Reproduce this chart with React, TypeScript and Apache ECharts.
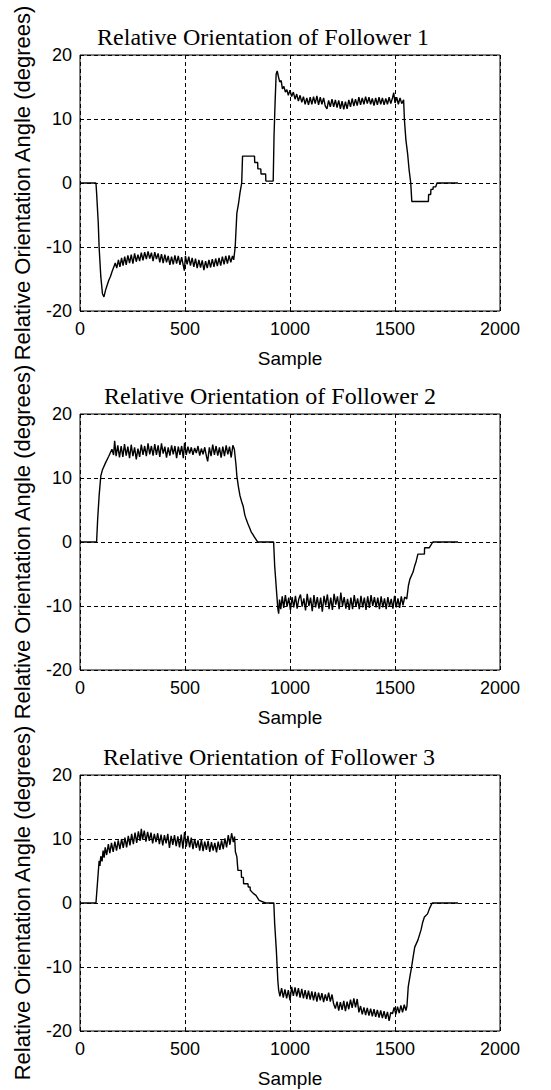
import React, { useEffect, useRef } from "react";
import * as echarts from "echarts";

const titles = [
  "Relative Orientation of Follower 1",
  "Relative Orientation of Follower 2",
  "Relative Orientation of Follower 3",
];
const xName = "Sample";
const yName = "Relative Orientation Angle (degrees)";
const xTicks = [0, 500, 1000, 1500, 2000];
const yTicks = [-20, -10, 0, 10, 20];

// [sample, angle in degrees]
const follower1: [number, number][] = [
  [0, 0], [76, 0], [79, -1.5], [87, -6.3], [91, -10], [99, -14.6], [107, -17.3], [114, -17.8],
  [122, -16.7], [130, -15.9], [137, -15.2], [145, -14.6], [152, -13.9], [160, -13.2], [168, -12.5],
  [175, -13.3], [183, -12.0], [190, -13.1], [198, -11.7], [205, -12.9], [213, -11.5], [220, -12.8],
  [228, -11.3], [236, -12.5], [244, -11.2], [252, -12.6], [260, -11.0], [268, -12.3], [276, -11.2],
  [284, -12.2], [292, -10.9], [300, -12.1], [308, -10.8], [316, -11.9], [324, -10.7], [332, -11.8],
  [340, -10.9], [348, -12.2], [356, -10.8], [364, -11.9], [372, -11.0], [380, -12.4], [388, -11.1],
  [396, -12.5], [404, -11.2], [412, -12.4], [420, -11.4], [428, -12.8], [436, -11.5], [444, -12.7],
  [452, -11.3], [460, -12.6], [468, -11.4], [476, -12.8], [484, -11.6], [492, -12.9], [497, -13.7],
  [502, -11.4], [510, -12.7], [518, -11.5], [526, -12.9], [534, -11.7], [542, -13.1], [550, -11.8],
  [558, -13.3], [566, -12.0], [574, -13.2], [582, -12.1], [590, -13.6], [598, -12.2], [606, -13.3],
  [614, -12.0], [622, -13.2], [630, -11.9], [638, -13.1], [646, -11.8], [654, -13.0], [662, -11.7],
  [670, -12.9], [678, -11.5], [686, -12.7], [694, -11.4], [702, -12.6], [710, -11.3], [718, -12.4],
  [726, -11.4], [732, -12.0], [739, -10.0], [747, -4.7], [755, -3.2], [762, -1.5], [770, 0],
  [774, 4.2], [831, 4.2], [832, 3.2], [846, 3.2], [847, 2.2], [861, 2.2], [862, 1.4], [884, 1.4],
  [885, 0.3], [920, 0.3], [924, 7.4], [929, 12.6], [934, 17.0], [939, 17.5], [945, 16.6],
  [951, 15.8], [958, 16.0], [964, 14.7], [971, 15.1], [978, 14.2], [985, 14.6], [992, 13.7],
  [1000, 14.5], [1008, 13.5], [1016, 14.2], [1024, 13.1], [1032, 13.9], [1040, 12.8], [1048, 13.7],
  [1056, 12.6], [1064, 13.5], [1072, 12.3], [1080, 13.3], [1088, 12.2], [1096, 13.4], [1104, 12.3],
  [1112, 13.5], [1120, 12.4], [1128, 13.6], [1136, 12.2], [1144, 13.4], [1152, 12.3], [1160, 13.3],
  [1168, 12.0], [1176, 11.6], [1184, 12.9], [1192, 11.9], [1200, 13.1], [1208, 11.9], [1216, 13.0],
  [1224, 11.8], [1232, 12.9], [1240, 11.6], [1248, 12.8], [1256, 11.5], [1264, 12.7], [1272, 11.6],
  [1280, 13.0], [1288, 11.9], [1296, 13.2], [1304, 12.0], [1312, 13.1], [1320, 12.1], [1328, 13.4],
  [1336, 12.2], [1344, 13.3], [1352, 12.3], [1360, 13.5], [1368, 12.4], [1376, 13.4], [1384, 12.3],
  [1392, 13.2], [1400, 12.1], [1408, 13.3], [1416, 12.2], [1424, 13.4], [1432, 12.3], [1440, 13.3],
  [1448, 12.2], [1456, 13.2], [1464, 12.3], [1472, 13.4], [1480, 12.4], [1488, 13.3], [1494, 14.1],
  [1500, 12.5], [1508, 13.4], [1516, 12.3], [1524, 13.3], [1532, 12.4], [1541, 13.0], [1545, 9.8],
  [1552, 6.7], [1560, 4.6], [1567, 2.1], [1575, 0], [1580, -2.9], [1659, -2.9], [1660, -1.8],
  [1670, -1.8], [1671, -1.0], [1681, -1.0], [1682, -0.6], [1694, -0.6], [1700, 0], [1800, 0],
];

const follower2: [number, number][] = [
  [0, 0], [79, 0], [84, 3.5], [91, 7.2], [99, 10.3], [107, 11.3], [122, 12.4], [137, 13.4],
  [152, 14.5], [160, 13.6], [165, 15.8], [172, 13.4], [180, 15.1], [188, 13.2], [196, 15.0],
  [204, 13.3], [212, 15.3], [220, 13.5], [228, 14.9], [236, 13.1], [244, 15.2], [252, 13.4],
  [260, 14.8], [268, 12.9], [276, 14.6], [284, 13.3], [292, 15.2], [300, 13.6], [308, 15.0],
  [316, 13.4], [324, 15.4], [332, 13.7], [340, 15.0], [348, 13.5], [356, 15.3], [364, 13.6],
  [372, 15.1], [380, 13.3], [388, 15.4], [396, 13.8], [404, 14.9], [412, 13.2], [420, 14.8],
  [428, 13.5], [436, 15.1], [444, 13.7], [452, 15.0], [460, 13.1], [468, 14.9], [476, 13.6],
  [484, 15.0], [492, 13.1], [498, 15.5], [506, 13.6], [514, 14.9], [522, 13.8], [530, 14.8],
  [538, 13.6], [546, 14.7], [554, 13.9], [562, 15.0], [570, 13.5], [578, 14.6], [586, 13.7],
  [594, 14.8], [602, 13.4], [608, 12.6], [616, 14.8], [624, 13.4], [632, 15.2], [640, 13.6],
  [648, 15.0], [656, 13.5], [664, 14.8], [672, 13.2], [680, 14.9], [688, 13.4], [696, 15.1],
  [704, 13.7], [712, 14.9], [720, 13.2], [728, 15.1], [735, 14.5], [743, 12.0], [747, 10.3],
  [755, 8.5], [762, 7.2], [770, 6.3], [777, 5.6], [785, 4.2], [792, 3.5], [800, 2.8], [808, 2.2],
  [815, 1.6], [823, 1.2], [830, 0.8], [838, 0.4], [846, 0], [922, 0], [927, -3.7], [935, -7.3],
  [942, -10.4], [946, -11.2], [950, -9.0], [956, -10.5], [963, -8.5], [970, -10.3], [978, -8.3],
  [986, -10.1], [994, -8.7], [1002, -10.6], [1010, -8.6], [1018, -10.2], [1026, -8.4], [1034, -10.4],
  [1042, -8.9], [1050, -8.2], [1058, -10.1], [1066, -8.8], [1074, -10.7], [1082, -8.1], [1090, -10.0],
  [1098, -8.7], [1106, -10.8], [1114, -8.3], [1122, -10.2], [1130, -8.6], [1138, -10.4], [1146, -8.7],
  [1154, -10.9], [1162, -8.4], [1170, -9.9], [1178, -8.2], [1186, -10.5], [1194, -8.7], [1202, -10.6],
  [1210, -8.1], [1218, -9.8], [1226, -8.5], [1234, -10.5], [1242, -7.9], [1250, -10.0], [1258, -8.6],
  [1266, -10.4], [1274, -8.9], [1282, -10.6], [1290, -8.7], [1298, -10.5], [1306, -8.3], [1314, -10.1],
  [1322, -8.8], [1330, -10.5], [1338, -8.4], [1346, -10.2], [1354, -8.7], [1362, -10.6], [1370, -8.5],
  [1378, -10.3], [1386, -8.3], [1394, -10.0], [1402, -8.6], [1410, -10.2], [1418, -8.7], [1426, -10.5],
  [1434, -8.5], [1442, -10.2], [1450, -8.8], [1458, -10.5], [1466, -8.6], [1474, -10.1], [1482, -8.9],
  [1490, -10.4], [1498, -8.4], [1506, -10.2], [1514, -8.8], [1522, -10.3], [1530, -8.5], [1538, -9.9],
  [1546, -8.6], [1556, -8.9], [1564, -6.8], [1571, -5.8], [1586, -4.7], [1594, -3.7], [1601, -3.0],
  [1609, -1.9], [1640, -1.9], [1641, -0.9], [1663, -0.9], [1680, 0], [1800, 0],
];

const follower3: [number, number][] = [
  [0, 0], [76, 0], [84, 3.5], [91, 6.6], [95, 5.8], [99, 7.3], [105, 6.5], [110, 8.2], [115, 7.1],
  [120, 8.7], [127, 7.5], [135, 9.2], [142, 7.8], [150, 9.4], [158, 8.0], [166, 9.6], [174, 8.2],
  [182, 9.8], [190, 8.4], [198, 10.0], [206, 8.6], [214, 10.2], [222, 8.7], [230, 10.5], [238, 9.0],
  [246, 10.8], [254, 9.2], [262, 11.0], [270, 9.4], [278, 11.2], [286, 9.7], [292, 11.6],
  [298, 9.9], [306, 11.3], [314, 9.6], [322, 11.1], [330, 9.7], [338, 11.0], [346, 9.3],
  [354, 10.8], [362, 9.5], [370, 10.9], [378, 9.2], [386, 10.7], [394, 9.0], [402, 10.6], [410, 9.3],
  [418, 10.8], [426, 8.6], [434, 10.5], [442, 9.1], [450, 10.6], [458, 8.9], [466, 10.4], [474, 8.7],
  [482, 10.7], [490, 8.5], [498, 11.1], [506, 8.8], [514, 10.5], [522, 8.7], [530, 10.2], [538, 8.4],
  [546, 10.0], [554, 8.6], [562, 9.8], [570, 8.2], [578, 9.9], [586, 8.1], [594, 9.6], [602, 8.3],
  [610, 9.7], [618, 8.0], [626, 9.5], [634, 8.2], [642, 9.4], [650, 7.9], [658, 9.6], [666, 8.3],
  [674, 9.8], [682, 8.4], [690, 10.1], [698, 8.7], [706, 10.6], [714, 9.1], [722, 10.9], [730, 9.5],
  [736, 10.4], [740, 8.0], [747, 7.2], [752, 5.1], [768, 5.1], [769, 4.0], [778, 4.0], [779, 3.0],
  [800, 3.0], [801, 2.5], [810, 2.5], [811, 2.0], [825, 1.5], [838, 1.2], [853, 0.4], [884, 0],
  [923, 0], [927, -3.2], [935, -7.4], [942, -12.1], [946, -13.6], [952, -14.6], [960, -13.3],
  [968, -14.8], [976, -13.5], [984, -14.9], [992, -13.6], [1000, -15.2], [1008, -13.1], [1016, -14.5],
  [1024, -13.2], [1032, -14.6], [1040, -13.3], [1048, -14.8], [1056, -13.4], [1064, -14.9],
  [1072, -13.6], [1080, -15.0], [1088, -13.7], [1096, -15.1], [1104, -13.8], [1112, -15.2],
  [1120, -13.9], [1128, -15.4], [1136, -14.0], [1144, -15.2], [1152, -14.1], [1160, -15.5],
  [1168, -14.3], [1176, -15.3], [1184, -14.0], [1192, -15.4], [1200, -14.3], [1208, -15.8],
  [1216, -16.5], [1224, -15.4], [1232, -16.8], [1240, -15.5], [1248, -16.7], [1256, -15.3],
  [1264, -16.9], [1272, -15.4], [1280, -16.6], [1288, -15.1], [1296, -16.4], [1304, -14.9],
  [1312, -16.3], [1320, -15.0], [1328, -17.1], [1336, -16.1], [1344, -17.4], [1352, -16.3],
  [1360, -17.5], [1368, -16.4], [1376, -17.6], [1384, -16.5], [1392, -17.7], [1400, -16.6],
  [1408, -17.8], [1416, -16.7], [1424, -17.9], [1432, -16.8], [1440, -18.0], [1448, -16.9],
  [1456, -18.1], [1464, -17.0], [1472, -18.4], [1480, -17.1], [1488, -17.3], [1496, -16.3],
  [1504, -17.4], [1512, -16.2], [1520, -17.2], [1528, -16.0], [1536, -17.1], [1544, -15.9],
  [1552, -16.8], [1557, -16.1], [1563, -13.1], [1571, -11.5], [1579, -10.0], [1586, -8.5],
  [1594, -6.9], [1609, -5.8], [1624, -4.2], [1632, -3.0], [1640, -2.2], [1655, -1.7], [1665, -0.8],
  [1677, 0], [1800, 0],
];

const seriesData = [follower1, follower2, follower3];
const gridTops = [55, 414, 775];
const titleCenters = [258, 265, 264];

export default function App() {
  const ref = useRef<HTMLDivElement>(null);
  useEffect(() => {
    if (!ref.current) return;
    const chart = echarts.init(ref.current, undefined, { renderer: "svg" });
    const sans = "Liberation Sans";
    const dashed = { color: "#000", width: 1, type: [4, 3] as number[] };
    chart.setOption({
      animation: false,
      backgroundColor: "#fff",
      title: titles.map((t, i) => ({
        text: t,
        left: titleCenters[i],
        textAlign: "center",
        top: gridTops[i] - 35,
        textStyle: {
          fontFamily: "Liberation Serif",
          fontSize: 24,
          fontWeight: "normal",
          color: "#000",
        },
      })),
      grid: gridTops.map((top) => ({
        left: 80,
        width: 420,
        top,
        height: 256,
        show: true,
        borderColor: "#000",
        borderWidth: 1,
        backgroundColor: "transparent",
        containLabel: false,
      })),
      xAxis: gridTops.map((_, i) => ({
        type: "value",
        gridIndex: i,
        min: xTicks[0],
        max: xTicks[xTicks.length - 1],
        interval: 500,
        name: xName,
        nameLocation: "middle",
        nameGap: 38,
        nameTextStyle: { fontFamily: sans, fontSize: 19, color: "#000" },
        axisLine: { show: false, onZero: false },
        axisTick: { show: false },
        axisLabel: {
          fontFamily: sans,
          fontSize: 18,
          color: "#000",
          margin: 9,
          formatter: (v: number) => String(v),
        },
        splitLine: { show: true, lineStyle: dashed },
      })),
      yAxis: gridTops.map((_, i) => ({
        type: "value",
        gridIndex: i,
        min: yTicks[0],
        max: yTicks[yTicks.length - 1],
        interval: 10,
        name: yName,
        nameLocation: "middle",
        nameGap: 47,
        nameTextStyle: { fontFamily: sans, fontSize: 22, color: "#000" },
        axisLine: { show: false, onZero: false },
        axisTick: { show: false },
        axisLabel: {
          fontFamily: sans,
          fontSize: 18,
          color: "#000",
          margin: 8,
          formatter: (v: number) => String(v),
        },
        splitLine: { show: true, lineStyle: dashed },
      })),
      series: seriesData.map((d, i) => ({
        type: "line",
        xAxisIndex: i,
        yAxisIndex: i,
        data: d,
        showSymbol: false,
        symbol: "none",
        lineStyle: { color: "#000", width: 1.4 },
        itemStyle: { color: "#000" },
        z: 3,
      })),
    });
    return () => chart.dispose();
  }, []);
  return (
    <div
      ref={ref}
      style={{ position: "absolute", left: 0, top: 0, width: 551, height: 1090, background: "#fff" }}
    />
  );
}
